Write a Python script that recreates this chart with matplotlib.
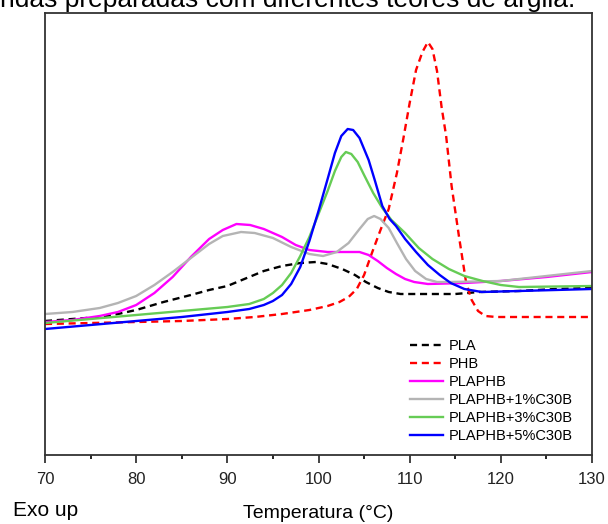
"""DSC cooling curves for PLA, PHB and the PLA/PHB blends with C30B clay."""

import matplotlib

matplotlib.use("Agg")
import matplotlib.pyplot as plt  # noqa: E402
from matplotlib.ticker import MultipleLocator  # noqa: E402

plt.rcParams["font.family"] = ["Liberation Sans", "DejaVu Sans"]

# heat flow in arbitrary units (exo up)
t_pla = [70, 73, 76, 78, 80, 83, 86, 88, 90, 92.4, 94, 96, 98, 99.7, 101, 102.6, 104,
         105.2, 106.5, 107.7, 109, 110.7, 115, 117.6, 122, 126, 130]
hf_pla = [1.34, 1.36, 1.38, 1.41, 1.45, 1.53, 1.60, 1.65, 1.69, 1.78, 1.84, 1.89, 1.92,
          1.93, 1.91, 1.86, 1.80, 1.73, 1.67, 1.63, 1.61, 1.61, 1.61, 1.63, 1.64, 1.66, 1.67]

t_phb = [70, 75, 80, 85, 90, 93, 96, 99, 101, 102.3, 103.3, 104.2, 105, 105.9, 106.8,
         107.7, 108.6, 109.3, 110, 110.7, 111.4, 112.0, 112.5, 113.0, 113.5, 114.0,
         114.6, 115.4, 116.2, 116.8, 117.5, 118.3, 119.5, 130]
hf_phb = [1.31, 1.32, 1.33, 1.34, 1.36, 1.38, 1.41, 1.45, 1.49, 1.53, 1.58, 1.66, 1.80,
          2.03, 2.25, 2.46, 2.82, 3.16, 3.52, 3.85, 4.03, 4.13, 4.06, 3.84, 3.48, 3.19,
          2.69, 2.19, 1.72, 1.55, 1.44, 1.39, 1.38, 1.38]

t_blend = [70, 73, 76, 78, 80, 82, 84, 86, 88, 89.5, 91, 92.5, 94, 96, 97.5, 99, 101,
           103, 104.5, 105.5, 106.5, 107.5, 108.5, 109.5, 110.5, 112, 116, 120, 125, 130]
hf_blend = [1.33, 1.35, 1.39, 1.43, 1.50, 1.62, 1.78, 1.98, 2.16, 2.25, 2.31, 2.30,
            2.26, 2.18, 2.10, 2.05, 2.03, 2.03, 2.03, 2.00, 1.94, 1.87, 1.81, 1.76,
            1.73, 1.71, 1.72, 1.74, 1.78, 1.83]

t_c1 = [70, 73, 76, 78, 80, 82, 84, 86, 88, 89.5, 91.5, 93, 95, 97, 99, 100.5, 102,
        103.3, 104.5, 105.4, 106.1, 106.8, 107.7, 108.6, 109.6, 110.6, 111.8, 113,
        114.3, 120, 125, 130]
hf_c1 = [1.41, 1.43, 1.47, 1.52, 1.59, 1.70, 1.83, 1.97, 2.11, 2.19, 2.23, 2.22, 2.17,
         2.08, 2.01, 1.99, 2.03, 2.12, 2.26, 2.36, 2.39, 2.36, 2.27, 2.12, 1.96, 1.84,
         1.76, 1.73, 1.73, 1.74, 1.79, 1.84]

t_c3 = [70, 75, 80, 85, 90, 92.4, 94, 95, 96, 97, 98, 99, 100, 101, 101.8, 102.5, 103,
        103.6, 104.3, 105, 106, 107, 108, 109.5, 111, 112.5, 114.3, 116, 118, 120, 122, 130]
hf_c3 = [1.32, 1.36, 1.40, 1.44, 1.48, 1.51, 1.56, 1.62, 1.70, 1.82, 1.99, 2.18, 2.41,
         2.64, 2.84, 2.98, 3.03, 3.01, 2.93, 2.80, 2.62, 2.47, 2.35, 2.22, 2.07, 1.96,
         1.86, 1.79, 1.74, 1.70, 1.68, 1.69]

t_c5 = [70, 75, 80, 85, 90, 92.4, 94, 95, 96, 97, 98, 99, 100, 101, 101.8, 102.5, 103.2,
        103.8, 104.5, 105.5, 106.2, 107, 107.8, 108.5, 109.5, 110.7, 112, 113.3, 114.5,
        116, 117.9, 122, 130]
hf_c5 = [1.26, 1.30, 1.34, 1.38, 1.43, 1.46, 1.50, 1.54, 1.60, 1.71, 1.88, 2.14, 2.44,
         2.76, 3.02, 3.19, 3.26, 3.25, 3.17, 2.95, 2.74, 2.49, 2.36, 2.29, 2.16, 2.03,
         1.90, 1.80, 1.72, 1.66, 1.63, 1.64, 1.66]

fig = plt.figure(figsize=(6.08, 5.24), dpi=100)
ax = fig.add_axes([45 / 608, 1 - 455 / 524, 547 / 608, 442 / 524])

dash = (0, (3, 2))
ax.plot(t_pla, hf_pla, color="black", lw=1.7, linestyle=dash, label="PLA")
ax.plot(t_phb, hf_phb, color="#ff0000", lw=1.7, linestyle=dash, label="PHB")
ax.plot(t_blend, hf_blend, color="#ff00ff", lw=1.7, label="PLAPHB")
ax.plot(t_c1, hf_c1, color="#b4b4b4", lw=1.7, label="PLAPHB+1%C30B")
ax.plot(t_c3, hf_c3, color="#66cc55", lw=1.7, label="PLAPHB+3%C30B")
ax.plot(t_c5, hf_c5, color="#0000ff", lw=1.7, label="PLAPHB+5%C30B")

ax.set_xlim(70, 130)
ax.set_ylim(0, 4.42)
ax.xaxis.set_major_locator(MultipleLocator(10))
ax.xaxis.set_minor_locator(MultipleLocator(5))
ax.tick_params(axis="x", which="major", length=6, width=1.2, labelsize=12, pad=6,
               colors="#222222")
ax.tick_params(axis="x", which="minor", length=3, width=1.2)
ax.set_yticks([])
for side in ax.spines.values():
    side.set_color("#333333")
    side.set_linewidth(1.3)

ax.set_xlabel("Temperatura (°C)", fontsize=14, labelpad=13)
fig.text(13 / 608, 1 - 516 / 524, "Exo up", fontsize=15, ha="left", va="baseline")
fig.text(0, 1 - 7 / 524, "ndas preparadas com diferentes teores de argila.",
         fontsize=19, ha="left", va="baseline")

ax.legend(loc="upper left", bbox_to_anchor=(0.667, 0.263), frameon=False, fontsize=10.5,
          handlelength=2.3, handletextpad=0.35, labelspacing=0.28, borderpad=0,
          borderaxespad=0)

fig.savefig("out.png", dpi=100)
